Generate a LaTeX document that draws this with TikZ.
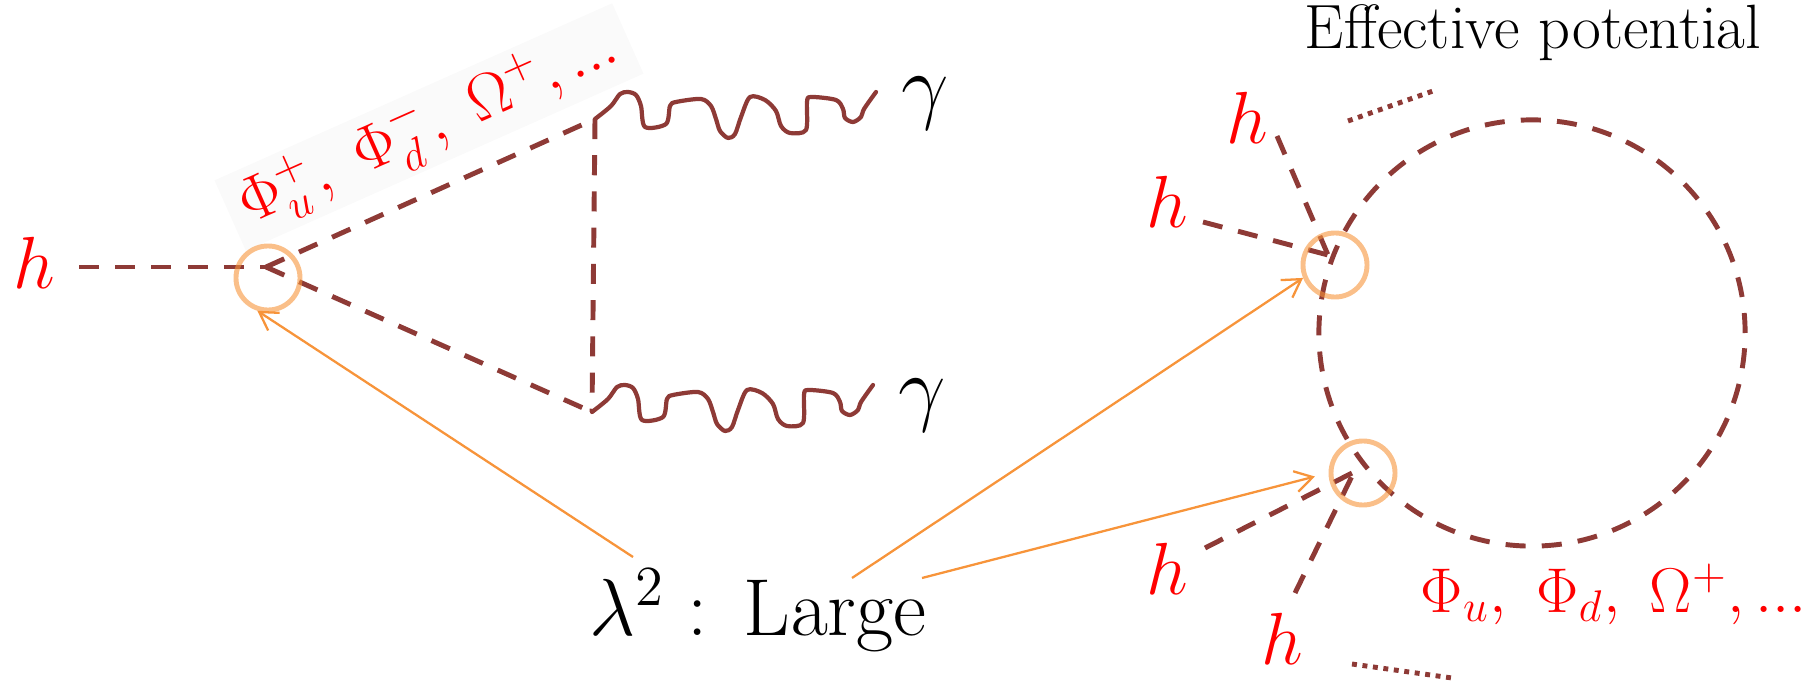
\documentclass[tikz,border=0pt]{standalone}
\usepackage{fix-cm}
\usepackage{amsmath}
\usepackage{xcolor}
\usepackage{tikz}
\usetikzlibrary{arrows.meta,positioning}
\definecolor{scalbrown}{HTML}{8E3A36}
\definecolor{arrorange}{HTML}{F7943A}
\definecolor{boxgray}{HTML}{FAFAFA}

\begin{document}
\begin{tikzpicture}[
x=0.01cm,y=-0.01cm,
scal/.style={draw=scalbrown,line width=1.4pt,dash pattern=on 5.7pt off 4.6pt},
phot/.style={draw=scalbrown,line width=1.2pt,line join=round,line cap=round},
dotline/.style={draw=scalbrown,line width=1.4pt,dash pattern=on 1.4pt off 1.6pt},
ring/.style={circle,draw=arrorange,draw opacity=0.6,line width=1.4pt,minimum size=0.64cm,inner sep=0pt},
arr/.style={-{Straight Barb[length=5pt,width=6pt]},draw=arrorange,line width=0.65pt},
hlab/.style={text=red,inner sep=0pt,font=\fontsize{21}{25}\selectfont},
plab/.style={text=red,inner sep=0pt,font=\fontsize{18}{22}\selectfont},
glab/.style={inner sep=0pt,font=\fontsize{24}{28}\selectfont}
]
\useasboundingbox (0,0) rectangle (1806,691);

% h -> gamma gamma
\coordinate (e0) at (79,267);
\coordinate (v1) at (266,267);
\coordinate (t1) at (595,119);
\coordinate (b1) at (592,412);
\node[hlab] (hl) at (34,263) {$h$};
\node[plab,fill=boxgray,inner xsep=4pt,inner ysep=1pt,rotate=24] (phic) at (429,127) {$\Phi_u^+,~\Phi_d^-,~\Omega^+,...$};
\draw[scal] (e0) -- (v1);
\draw[scal] (v1) -- (t1);
\draw[scal] (v1) -- (b1);
\draw[scal] (t1) -- (b1);
\draw[phot,shift={(t1)}] plot[smooth,tension=0.5] coordinates {(0,0) (16,-13) (25,-25) (33,-27) (41,-24) (46,-13) (50,8) (71,5) (75,-13) (81,-17) (106,-20) (116,-13) (121,0) (125,12) (133,19) (140,15) (146,-2) (155,-22) (170,-19) (181,-8) (186,7) (195,14) (211,11) (212,-17) (216,-22) (241,-19) (248,-10) (250,-1) (258,3) (266,-2) (269,-10) (281,-27)};
\draw[phot,shift={(b1)}] plot[smooth,tension=0.5] coordinates {(0,0) (16,-13) (25,-25) (33,-27) (41,-24) (46,-13) (50,8) (71,5) (75,-13) (81,-17) (106,-20) (116,-13) (121,0) (125,12) (133,19) (140,15) (146,-2) (155,-22) (170,-19) (181,-8) (186,7) (195,14) (211,11) (212,-17) (216,-22) (241,-19) (248,-10) (250,-1) (258,3) (266,-2) (269,-10) (281,-27)};
\node[glab] (g1) at (925,104) {$\gamma$};
\node[glab] (g2) at (922,406) {$\gamma$};
\node[ring] (r1) at (268,278) {};

% effective potential
\node[anchor=base,font=\fontsize{17.8}{21}\selectfont] (effpot) at (1533,49) {Effective potential};
\coordinate (o) at (1532,333);
\coordinate (v2) at (1328,255);
\coordinate (v3) at (1354,472);
\coordinate (p1) at (1277,136);
\coordinate (p2) at (1203,222);
\coordinate (p3) at (1205,548);
\coordinate (p4) at (1295,593);
\coordinate (d1) at (1348,121);
\coordinate (d2) at (1433,91);
\coordinate (d3) at (1352,664);
\coordinate (d4) at (1452,678);
\draw[scal] (o) circle[radius=2.13cm];
\draw[scal] (p1) -- (v2);
\draw[scal] (p2) -- (v2);
\draw[scal] (p3) -- (v3);
\draw[scal] (p4) -- (v3);
\draw[dotline] (d1) -- (d2);
\draw[dotline] (d3) -- (d4);
\node[hlab] (h1) at (1247,118) {$h$};
\node[hlab] (h2) at (1167,202) {$h$};
\node[hlab] (h3) at (1167,569) {$h$};
\node[hlab] (h4) at (1282,639) {$h$};
\node[plab,anchor=base] (phis) at (1614,612) {$\Phi_u,~\Phi_d,~\Omega^+,...$};
\node[ring] (r2) at (1335,265) {};
\node[ring] (r3) at (1363,473) {};

% coupling
\node[anchor=base,font=\fontsize{23}{27}\selectfont] (lam) at (758,635) {$\lambda^2:\,\mathrm{Large}$};
\coordinate (s1) at (633,557);
\coordinate (s2) at (852,578);
\coordinate (s3) at (922,578);
\draw[arr] (s1) -- (r1.252);
\draw[arr] (s2) -- (r2.202);
\draw[arr,shorten >=4pt] (s3) -- (r3.west);
\end{tikzpicture}
\end{document}
